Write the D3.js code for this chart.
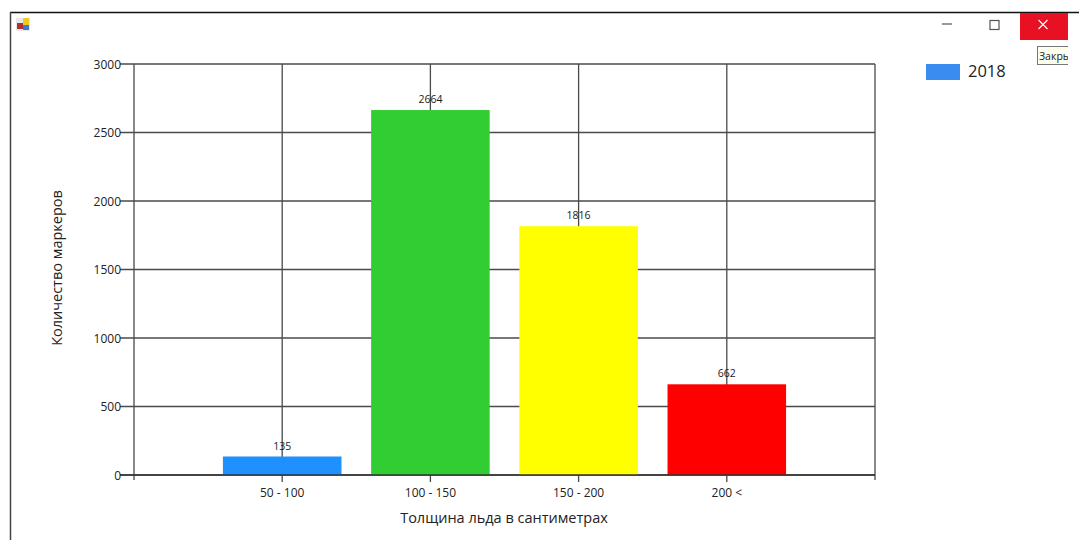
<!DOCTYPE html>
<html><head><meta charset="utf-8">
<script src="https://cdn.jsdelivr.net/npm/d3@7"></script>
<style>html,body{margin:0;padding:0;background:#fff;overflow:hidden}svg{display:block}text{font-family:"Open Sans","Noto Sans",sans-serif;fill:#222}</style>
</head><body><svg id="c" width="1079" height="540"></svg>
<script>
const categories=["50 - 100","100 - 150","150 - 200","200 <"];
const values=[135,2664,1816,662];
const valueLabels=["135","2664","1816","662"];
const colors=["#1e90ff","#32cd32","#ffff00","#ff0000"];
const yTicks=[0,500,1000,1500,2000,2500,3000];
const seriesName="2018";
const yTitle="Количество маркеров";
const xTitle="Толщина льда в сантиметрах";
const tooltipText="Закрыть";

const svg=d3.select("#c");
const m={l:134,r:875,t:64,b:475};
const x=d3.scaleLinear().domain([0,5]).range([m.l,m.r]);
const y=d3.scaleLinear().domain([0,3000]).range([m.b,m.t]);
const grid="#4a4a4a";

// window chrome
svg.append("line").attr("x1",10).attr("x2",1079).attr("y1",12.5).attr("y2",12.5).attr("stroke","#111").attr("stroke-width",1.5);
svg.append("line").attr("x1",10.5).attr("x2",10.5).attr("y1",12).attr("y2",540).attr("stroke","#444").attr("stroke-width",1.5);
const icon=svg.append("g");
[[16,18,14,13,"#e8e8e8"],[23,18,6,7,"#f0c820"],[17,23,6,6,"#b03030"],[23,25,6,5,"#3a7ad0"]].forEach(r=>icon.append("rect").attr("x",r[0]).attr("y",r[1]).attr("width",r[2]).attr("height",r[3]).attr("fill",r[4]));
svg.append("line").attr("x1",942).attr("x2",952).attr("y1",24).attr("y2",24).attr("stroke","#555").attr("stroke-width",1.2);
svg.append("rect").attr("x",990).attr("y",20.5).attr("width",9).attr("height",9).attr("fill","none").attr("stroke","#555").attr("stroke-width",1.2);
svg.append("rect").attr("x",1020).attr("y",13).attr("width",48).attr("height",27).attr("fill","#e81123");
svg.append("path").attr("d","M1038.5 20L1047.5 29M1047.5 20L1038.5 29").attr("stroke","#fff").attr("stroke-width",1.1);
const tip=svg.append("svg").attr("x",1037).attr("y",46).attr("width",31).attr("height",20);
tip.append("rect").attr("x",.5).attr("y",.5).attr("width",40).attr("height",18).attr("fill","#fffff0").attr("stroke","#777");
tip.append("text").attr("x",2).attr("y",14).attr("font-size",10.5).text(tooltipText);

// grid
svg.append("g").selectAll("line").data(yTicks).join("line")
 .attr("x1",m.l-14).attr("x2",m.r).attr("y1",d=>y(d)).attr("y2",d=>y(d))
 .attr("stroke",grid).attr("stroke-width",1.3);
svg.append("g").selectAll("line").data(categories).join("line")
 .attr("x1",(d,i)=>x(i+1)).attr("x2",(d,i)=>x(i+1)).attr("y1",m.t).attr("y2",m.b+7)
 .attr("stroke",grid).attr("stroke-width",1.3);
svg.append("g").selectAll("line").data([0,5]).join("line")
 .attr("x1",d=>x(d)).attr("x2",d=>x(d)).attr("y1",m.t).attr("y2",m.b+5)
 .attr("stroke",grid).attr("stroke-width",1.3);

// bars
const bw=(x(1)-x(0))*0.8;
svg.append("g").selectAll("rect").data(values).join("rect")
 .attr("x",(d,i)=>x(i+1)-bw/2).attr("width",bw)
 .attr("y",d=>y(d)).attr("height",d=>y(0)-y(d))
 .attr("fill",(d,i)=>colors[i]);
svg.append("line").attr("x1",m.l-14).attr("x2",m.r).attr("y1",m.b).attr("y2",m.b).attr("stroke","#333").attr("stroke-width",1.6);

// labels
svg.append("g").selectAll("text").data(values).join("text")
 .attr("x",(d,i)=>x(i+1)).attr("y",d=>y(d)-7).attr("text-anchor","middle").attr("font-size",10.5)
 .text((d,i)=>valueLabels[i]);
svg.append("g").selectAll("text").data(yTicks).join("text")
 .attr("x",m.l-13).attr("y",d=>y(d)+4.5).attr("text-anchor","end").attr("font-size",12).text(d=>d);
svg.append("g").selectAll("text").data(categories).join("text")
 .attr("x",(d,i)=>x(i+1)).attr("y",m.b+22).attr("text-anchor","middle").attr("font-size",12).text(d=>d);
svg.append("text").attr("x",504).attr("y",523).attr("text-anchor","middle").attr("font-size",14.5).text(xTitle);
svg.append("text").attr("transform","translate(62,268) rotate(-90)").attr("text-anchor","middle").attr("font-size",14.5).text(yTitle);

// legend
svg.append("rect").attr("x",926).attr("y",64).attr("width",34).attr("height",16).attr("fill","#3b8cf0");
svg.append("text").attr("x",968).attr("y",77).attr("font-size",16.5).text(seriesName);
</script></body></html>
